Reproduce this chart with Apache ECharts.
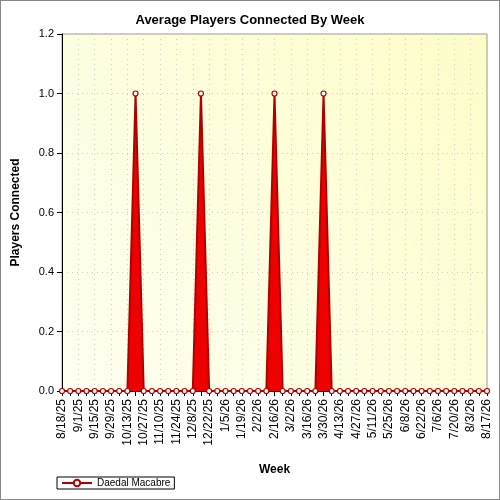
<!DOCTYPE html>
<html>
<head>
<meta charset="utf-8">
<script src="https://cdn.jsdelivr.net/npm/echarts@6/dist/echarts.min.js"></script>
<style>
  html, body { margin: 0; padding: 0; background: #fff; }
  #chart { width: 498px; height: 498px; border: 1px solid #888; }
</style>
</head>
<body>
<div id="chart"></div>
<script>
// weekly buckets starting 8/18/25
const weeks = [];
const start = new Date(2025, 7, 18);
for (let i = 0; i < 53; i++) {
  const d = new Date(start.getFullYear(), start.getMonth(), start.getDate() + i * 7);
  weeks.push((d.getMonth() + 1) + '/' + d.getDate() + '/' + String(d.getFullYear()).slice(2));
}

const players = [
  0, 0, 0, 0, 0, 0, 0, 0, 0, 1,
  0, 0, 0, 0, 0, 0, 0, 1, 0, 0,
  0, 0, 0, 0, 0, 0, 1, 0, 0, 0,
  0, 0, 1, 0, 0, 0, 0, 0, 0, 0,
  0, 0, 0, 0, 0, 0, 0, 0, 0, 0,
  0, 0, 0
];

const chart = echarts.init(document.getElementById('chart'));
chart.setOption({
  animation: false,
  title: {
    text: 'Average Players Connected By Week',
    left: 'center', top: 8,
    textStyle: { fontFamily: 'Liberation Sans', fontSize: 13, fontWeight: 'bold', color: '#000' }
  },
  grid: {
    left: 61, right: 12, top: 33, bottom: 108,
    show: true, borderColor: '#999', borderWidth: 1,
    backgroundColor: new echarts.graphic.LinearGradient(0, 1, 1, 0, [
      { offset: 0, color: '#fffff2' },
      { offset: 1, color: '#fdfdc8' }
    ])
  },
  legend: {
    left: 56, top: 476, padding: [1, 4],
    borderColor: '#000', borderWidth: 1,
    itemWidth: 30, itemHeight: 8,
    textStyle: { fontFamily: 'Liberation Sans', fontSize: 10, color: '#000' }
  },
  xAxis: {
    type: 'category', data: weeks, boundaryGap: false,
    name: 'Week', nameLocation: 'middle', nameGap: 73,
    nameTextStyle: { fontFamily: 'Liberation Sans', fontSize: 12, fontWeight: 'bold', color: '#000' },
    axisLine: { lineStyle: { color: '#000' } },
    axisTick: { interval: 0, length: 5, lineStyle: { color: '#000' } },
    axisLabel: { interval: 1, rotate: 90, fontFamily: 'Liberation Sans', fontSize: 12, color: '#000' },
    splitLine: { show: true, interval: 1, lineStyle: { color: '#ccc', type: [1, 4] } }
  },
  yAxis: {
    type: 'value', min: 0, max: 1.2, interval: 0.2,
    name: 'Players Connected', nameLocation: 'middle', nameGap: 40,
    nameTextStyle: { fontFamily: 'Liberation Sans', fontSize: 12, fontWeight: 'bold', color: '#000' },
    axisLine: { show: true, lineStyle: { color: '#000' } },
    axisTick: { show: true, length: 5, lineStyle: { color: '#000' } },
    axisLabel: { formatter: v => v.toFixed(1), fontFamily: 'Liberation Sans', fontSize: 11, color: '#000' },
    splitLine: { lineStyle: { color: '#ccc', type: [1, 4] } }
  },
  series: [{
    name: 'Daedal Macabre',
    type: 'line',
    data: players,
    color: '#e00000',
    symbol: 'circle', symbolSize: 5, showAllSymbol: true,
    itemStyle: { color: '#fff', borderColor: '#b00000', borderWidth: 1.2 },
    lineStyle: { color: '#b00000', width: 2 },
    areaStyle: { color: '#ee0000', opacity: 1 }
  }]
});
</script>
</body>
</html>
